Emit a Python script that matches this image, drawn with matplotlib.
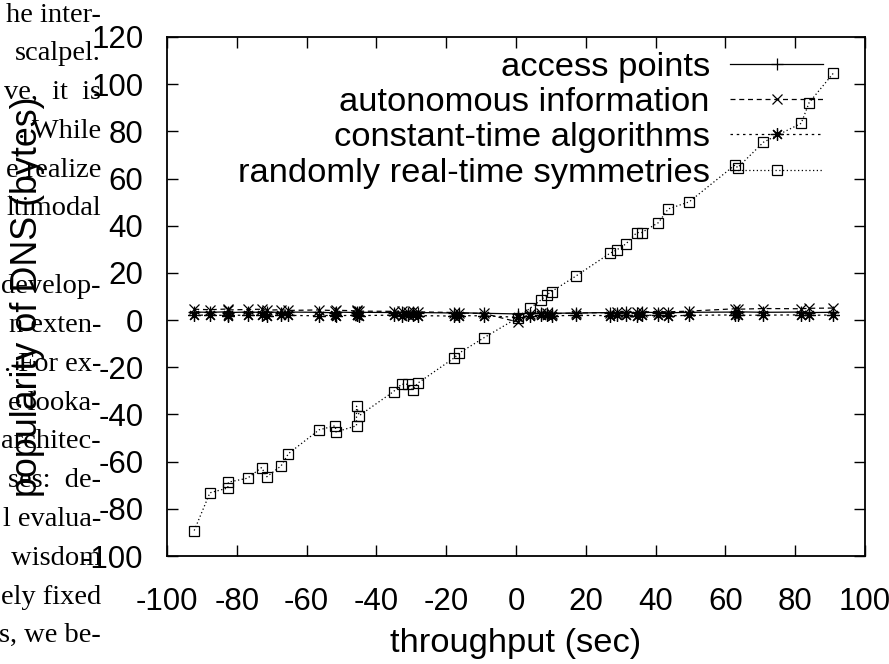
import matplotlib
matplotlib.use("Agg")
import matplotlib.pyplot as plt

# Data
###############################################################################
throughput = [-92.2, -87.7, -82.6, -82.4, -76.9, -72.9, -71.4, -67.3, -65.2,
              -56.4, -51.8, -51.6, -45.7, -45.7, -44.9, -35.1, -32.8, -30.9,
              -29.6, -28.2, -17.7, -16.3, -9.2, 0.5, 4.0, 7.2, 8.8, 10.2,
              17.2, 26.9, 28.8, 31.5, 34.6, 36.0, 40.8, 43.6, 49.6, 62.8,
              63.5, 70.9, 81.7, 84.0, 90.9]

access_points = [3.4, 3.3, 3.5, 3.2, 3.4, 3.3, 3.5, 3.2, 3.4, 3.3, 3.1, 3.4,
                 3.2, 3.5, 3.3, 3.2, 3.4, 3.1, 3.3, 3.2, 3.0, 3.1, 2.9, 2.6,
                 3.0, 2.8, 3.1, 2.9, 3.0, 3.2, 3.1, 3.3, 3.2, 3.3, 3.2, 3.1,
                 3.3, 3.4, 3.5, 3.3, 3.4, 3.2, 3.3]

autonomous_info = [4.6, 4.4, 4.7, 4.3, 4.5, 4.6, 4.2, 4.4, 4.1, 4.3, 4.0,
                   4.2, 3.9, 4.1, 3.8, 3.7, 3.9, 3.6, 3.8, 3.5, 3.2, 3.0,
                   2.8, -0.8, 2.6, 2.8, 2.9, 2.7, 3.0, 3.2, 3.4, 3.3, 3.5,
                   3.4, 3.6, 3.5, 3.8, 4.8, 4.6, 4.9, 4.8, 5.0, 5.1]

constant_time = [2.0, 2.2, 1.9, 2.1, 2.0, 2.2, 1.9, 2.1, 2.0, 1.8, 2.1, 1.9,
                 2.0, 2.2, 1.9, 2.1, 1.8, 2.0, 2.1, 1.9, 1.7, 1.9, 1.8, 1.2,
                 1.9, 2.0, 2.1, 1.8, 2.0, 1.9, 2.1, 2.0, 1.9, 2.1, 2.0, 1.8,
                 2.0, 2.2, 2.0, 2.1, 2.2, 2.0, 2.2]

symmetries = [-89.2, -73.2, -71.2, -68.7, -67.0, -62.5, -66.4, -61.8, -56.6,
              -46.5, -44.8, -47.4, -44.8, -36.5, -40.5, -30.3, -27.2, -27.2,
              -29.6, -26.8, -16.0, -14.0, -7.5, 1.0, 5.0, 8.6, 10.7, 12.1,
              18.7, 28.3, 29.7, 32.3, 37.1, 37.1, 41.3, 47.1, 50.1, 65.8,
              64.6, 75.4, 83.4, 92.2, 104.6]

labels = ["access points", "autonomous information",
          "constant-time algorithms", "randomly real-time symmetries"]

xticks = list(range(-100, 101, 20))
yticks = list(range(-100, 121, 20))

# the bit of paper text that overlaps the figure on the left
paper_lines = ["he inter-", "scalpel.", "ve,  it  is", ". While", "e realize",
               "ltimodal", "", "develop-", "n exten-", ". For ex-",
               "e looka-", "architec-", "ses:  de-", "l evalua-", " wisdom",
               "ely fixed", "s, we be-"]

# Plot
###############################################################################
plt.rcParams['font.family'] = ['Liberation Sans', 'DejaVu Sans']
plt.rcParams['axes.unicode_minus'] = False

fig = plt.figure(figsize=(8.89, 6.64), dpi=100)
W, H = 889.0, 664.0

for i, line in enumerate(paper_lines):
    fig.text(101 / W, 1 - (15 + 38.8 * i) / H, line, ha='right', va='center',
             fontsize=20.5, family='Liberation Serif')
fig.text(72 / W, 1 - 678 / H, "We", ha='left', va='center', fontsize=20.5,
         family='Liberation Serif')

ax = fig.add_axes([167 / W, 1 - 556 / H, (865 - 167) / W, (556 - 37) / H])
ax.patch.set_alpha(0)

ax.plot(throughput, access_points, color='black', lw=0.9, ls='-',
        marker='+', ms=8, mew=0.9, label=labels[0])
ax.plot(throughput, autonomous_info, color='black', lw=0.9,
        ls=(0, (4, 3)), marker='x', ms=7, mew=0.9, label=labels[1])
ax.plot(throughput, constant_time, color='black', lw=0.9,
        ls=(0, (2, 3)), marker=(8, 2, 0), ms=9, mew=0.9, label=labels[2])
ax.plot(throughput, symmetries, color='black', lw=0.9,
        ls=(0, (1, 2)), marker='s', ms=7, mew=0.9, mfc='none',
        label=labels[3])

ax.set_xlim(-100, 100)
ax.set_ylim(-100, 120)
ax.set_xticks(xticks)
ax.set_yticks(yticks)
ax.tick_params(direction='in', length=8, width=1, top=True, right=True,
               labelsize=22.5)
ax.tick_params(axis='x', pad=22)
ax.tick_params(axis='y', pad=17)
for sp in ax.spines.values():
    sp.set_linewidth(1.3)

ax.set_xlabel("throughput (sec)", fontsize=24.8, labelpad=8)
fig.text(28 / W, 1 - 297 / H, "popularity of DNS (bytes)", rotation=90,
         ha='center', va='center', fontsize=25.8)

leg = ax.legend(loc='upper right', bbox_to_anchor=(0.975, 1.018),
                frameon=False, markerfirst=False, fontsize=24.8,
                handlelength=2.7, handletextpad=0.6, labelspacing=0.12,
                borderpad=0.2)
for t in leg.get_texts():
    t.set_ha('right')

fig.savefig("out.png", dpi=100)
